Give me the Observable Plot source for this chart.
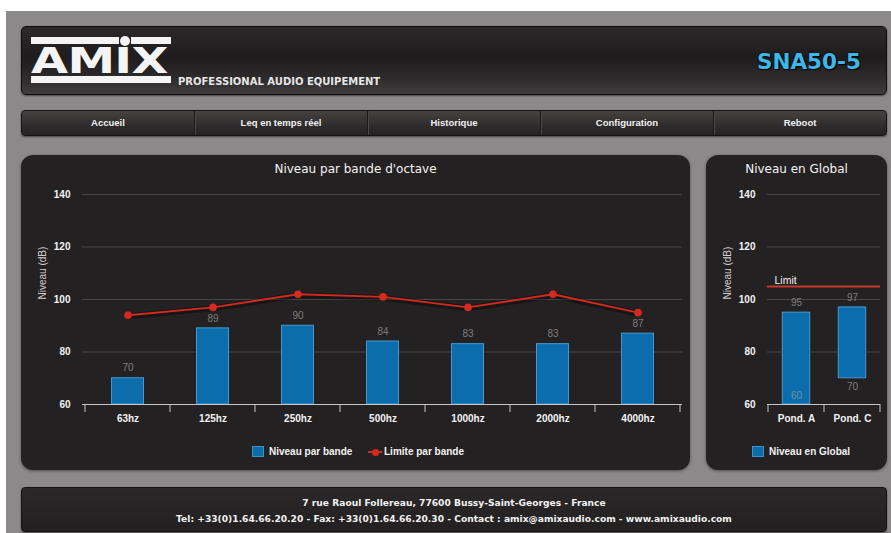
<!DOCTYPE html>
<html><head><meta charset="utf-8">
<script src="https://cdn.jsdelivr.net/npm/d3@7"></script>
<script src="https://cdn.jsdelivr.net/npm/@observablehq/plot@0.6"></script>
<style>
html,body{margin:0;padding:0;background:#fff;width:891px;height:533px;overflow:hidden;position:relative;}
#bg{position:absolute;left:6px;top:11px;width:885px;height:522px;background:#8c898a;}
.abs{position:absolute;}
.panel{position:absolute;box-sizing:border-box;}
#header{left:21px;top:26px;width:866px;height:69px;border-radius:5px;border:1px solid #0e0d0d;
  background:linear-gradient(to bottom,#2b2929 0%,#1e1c1c 45%,#2c2a2a 75%,#3e3c3c 100%);box-shadow:0 1px 2px rgba(0,0,0,.5);}
#nav{left:21px;top:110px;width:866px;height:26px;border-radius:4px;border:1px solid #141313;
  background:linear-gradient(to bottom,#454242 0%,#2e2c2c 60%,#242222 100%);box-shadow:0 1px 2px rgba(0,0,0,.5);display:flex;}
#nav div{flex:1;text-align:center;font:bold 9.5px "Liberation Sans",Arial,sans-serif;color:#f0f0f0;line-height:24px;border-left:1px solid #1a1919;box-shadow:inset 1px 0 0 #4a4747;}
#nav div:first-child{border-left:none;box-shadow:none;}
.chartpanel{background:#242122;border-radius:12px;box-shadow:0 1px 3px rgba(0,0,0,.45);}
#leftp{left:21px;top:155px;width:669px;height:315px;}
#rightp{left:706px;top:155px;width:181px;height:315px;}
#footer{left:21px;top:487px;width:866px;height:45px;border-radius:4px;border:1px solid #141313;
  background:linear-gradient(to bottom,#2a2828,#222020);box-shadow:0 1px 2px rgba(0,0,0,.5);}
.ftxt{position:absolute;left:0;width:100%;text-align:center;font:bold 9.15px "DejaVu Sans",Verdana,sans-serif;color:#f2f2f2;line-height:16px;white-space:nowrap;}
.ptitle{position:absolute;left:0;width:100%;text-align:center;font:12px "DejaVu Sans",Verdana,sans-serif;color:#f4f4f4;line-height:14px;top:7px;}
.leg{position:absolute;font:bold 10px "Liberation Sans",Arial,sans-serif;color:#f2f2f2;line-height:12px;white-space:nowrap;}
.sq{position:absolute;width:12px;height:11px;background:#0b6dab;border:1px solid #3f8fc8;box-sizing:border-box;}
svg.plot{position:absolute;left:0;top:0;}
</style></head><body>
<div id="bg"></div>

<div id="header" class="panel">
  <div class="abs" style="left:9px;top:10px;width:88px;height:7px;background:#f4f4f4"></div>
  <div class="abs" style="left:98px;top:9px;width:10px;height:10px;border-radius:50%;background:#f4f4f4"></div>
  <div class="abs" style="left:109px;top:10px;width:40px;height:7px;background:#f4f4f4"></div>
  <div class="abs" style="left:9px;top:49px;width:140px;height:7px;background:#f4f4f4"></div>
  <div class="abs" style="left:9px;top:16px;font:bold 36px/36px 'DejaVu Sans',Verdana,sans-serif;color:#f4f4f4;transform:scaleX(1.33);transform-origin:0 0;letter-spacing:-0.5px">AMIX</div>
  <div class="abs" style="left:156px;top:50px;font:bold 10px/10px 'DejaVu Sans',Verdana,sans-serif;color:#e6e6e6;white-space:nowrap">PROFESSIONAL AUDIO EQUIPEMENT</div>
  <div class="abs" style="left:735px;top:24px;font:bold 21.5px/21.5px 'DejaVu Sans',Verdana,sans-serif;color:#3db6e8;text-shadow:0 0 2px #000,1px 1px 1px #000;white-space:nowrap">SNA50-5</div>
</div>

<div id="nav" class="panel">
  <div>Accueil</div><div>Leq en temps réel</div><div>Historique</div><div>Configuration</div><div>Reboot</div>
</div>

<div id="leftp" class="panel chartpanel">
  <div class="ptitle">Niveau par bande d'octave</div>
  <div id="leftchart"></div>
  <div class="sq" style="left:231px;top:291px"></div>
  <div class="leg" style="left:248px;top:291px">Niveau par bande</div>
  <div class="abs" style="left:347px;top:296px;width:14px;height:2px;background:#d42a1f"></div>
  <div class="abs" style="left:350.5px;top:293.5px;width:7px;height:7px;border-radius:50%;background:#d42a1f"></div>
  <div class="leg" style="left:363px;top:291px">Limite par bande</div>
</div>

<div id="rightp" class="panel chartpanel">
  <div class="ptitle">Niveau en Global</div>
  <div id="rightchart"></div>
  <div class="sq" style="left:46px;top:291px"></div>
  <div class="leg" style="left:63px;top:291px">Niveau en Global</div>
</div>

<div id="footer" class="panel">
  <div class="ftxt" style="top:7px">7 rue Raoul Follereau, 77600 Bussy-Saint-Georges - France</div>
  <div class="ftxt" style="top:23px">Tel: +33(0)1.64.66.20.20 - Fax: +33(0)1.64.66.20.30 - Contact : amix@amixaudio.com - www.amixaudio.com</div>
</div>

<script>
// ---- data ----
const bands = ["63hz", "125hz", "250hz", "500hz", "1000hz", "2000hz", "4000hz"];
const niveau = [70, 89, 90, 84, 83, 83, 87];
const limite = [94, 97, 102, 101, 97, 102, 95];
const yTicks = [60, 80, 100, 120, 140];
const ponds = ["Pond. A", "Pond. C"];
const globalLow = [60, 70];
const globalHigh = [95, 97];
const globalLimit = [105];
const yTitle = ["Niveau (dB)"];
const limitLabel = ["Limit"];

const bandData = bands.map((b, i) => ({band: b, niveau: niveau[i], limite: limite[i]}));
const globalData = ponds.map((p, i) => ({pond: p, low: globalLow[i], high: globalHigh[i]}));

const FONT = "'Liberation Sans', Arial, sans-serif";
const AXIS = "#c6c6c6";
const RED = "#d42a1f";

function boundaryTicks(domain, base) {
  return (index, scales) => {
    const x = scales.x;
    const bw = x.bandwidth ? x.bandwidth() : 0;
    const y0 = scales.y(base);
    const xs = domain.map(d => x(d));
    xs.push(x(domain[domain.length - 1]) + bw);
    const g = d3.create("svg:g").attr("stroke", AXIS);
    for (const v of xs) g.append("line").attr("x1", v).attr("x2", v).attr("y1", y0).attr("y2", y0 + 8);
    return g.node();
  };
}

function commonMarks() {
  return [
    Plot.axisX({tickSize: 0, tickPadding: 10, fontSize: 10, fontWeight: "bold", fill: "#f2f2f2", label: null}),
    Plot.axisY(yTicks, {tickSize: 0, tickPadding: 12, fontSize: 10, fontWeight: "bold", fill: "#f2f2f2", label: null}),
    Plot.text(yTitle, {text: d => d, frameAnchor: "left", rotate: -90, dx: -40, fill: "#d0d0d0", fontSize: 10})
  ];
}

const left = Plot.plot({
  width: 669, height: 315,
  marginLeft: 61, marginRight: 8, marginTop: 39, marginBottom: 66,
  style: {background: "transparent", fontFamily: FONT, overflow: "visible"},
  x: {type: "band", domain: bands, padding: 0, label: null},
  y: {domain: [60, 140], label: null},
  marks: [
    Plot.gridY(yTicks, {stroke: "#5a5657", strokeOpacity: 0.7}),
    Plot.barY(bandData, {x: "band", y1: 60, y2: "niveau", fill: "#0b6dab", stroke: "#4796cf", strokeWidth: 1, insetLeft: 26.5, insetRight: 26.5}),
    Plot.ruleY([60], {stroke: AXIS}),
    boundaryTicks(bands, 60),
    ...commonMarks(),
    Plot.text(bandData, {x: "band", y: "niveau", text: d => String(d.niveau), dy: -10, fill: "#7e7e7e", fontSize: 10}),
    Plot.line(bandData, {x: "band", y: "limite", stroke: "#000", strokeOpacity: 0.35, strokeWidth: 6, dy: 1}),
    Plot.line(bandData, {x: "band", y: "limite", stroke: RED, strokeWidth: 2}),
    Plot.dot(bandData, {x: "band", y: "limite", r: 3.8, fill: RED})
  ]
});
document.getElementById("leftchart").appendChild(left);

const right = Plot.plot({
  width: 181, height: 315,
  marginLeft: 61, marginRight: 7, marginTop: 39, marginBottom: 66,
  style: {background: "transparent", fontFamily: FONT, overflow: "visible"},
  x: {type: "band", domain: ponds, padding: 0, label: null},
  y: {domain: [60, 140], label: null},
  marks: [
    Plot.gridY(yTicks, {stroke: "#5a5657", strokeOpacity: 0.7}),
    Plot.barY(globalData, {x: "pond", y1: "low", y2: "high", fill: "#0b6dab", stroke: "#4796cf", strokeWidth: 1, insetLeft: 14.3, insetRight: 14.3}),
    Plot.ruleY([60], {stroke: AXIS}),
    boundaryTicks(ponds, 60),
    ...commonMarks(),
    Plot.text(globalData, {x: "pond", y: "high", text: d => String(d.high), dy: -10, fill: "#7e7e7e", fontSize: 10}),
    Plot.text(globalData.filter(d => d.low <= 60), {x: "pond", y: "low", text: d => String(d.low), dy: -9, fill: "#6f8fa8", fontSize: 10}),
    Plot.text(globalData.filter(d => d.low > 60), {x: "pond", y: "low", text: d => String(d.low), dy: 9, fill: "#7e7e7e", fontSize: 10}),
    Plot.ruleY(globalLimit, {stroke: "#c8382a", strokeWidth: 2}),
    Plot.text(limitLabel, {text: d => d, y: globalLimit[0], frameAnchor: "left", textAnchor: "start", dx: 7, dy: -6, fill: "#f0f0f0", fontSize: 10.5})
  ]
});
document.getElementById("rightchart").appendChild(right);
</script>
</body></html>
